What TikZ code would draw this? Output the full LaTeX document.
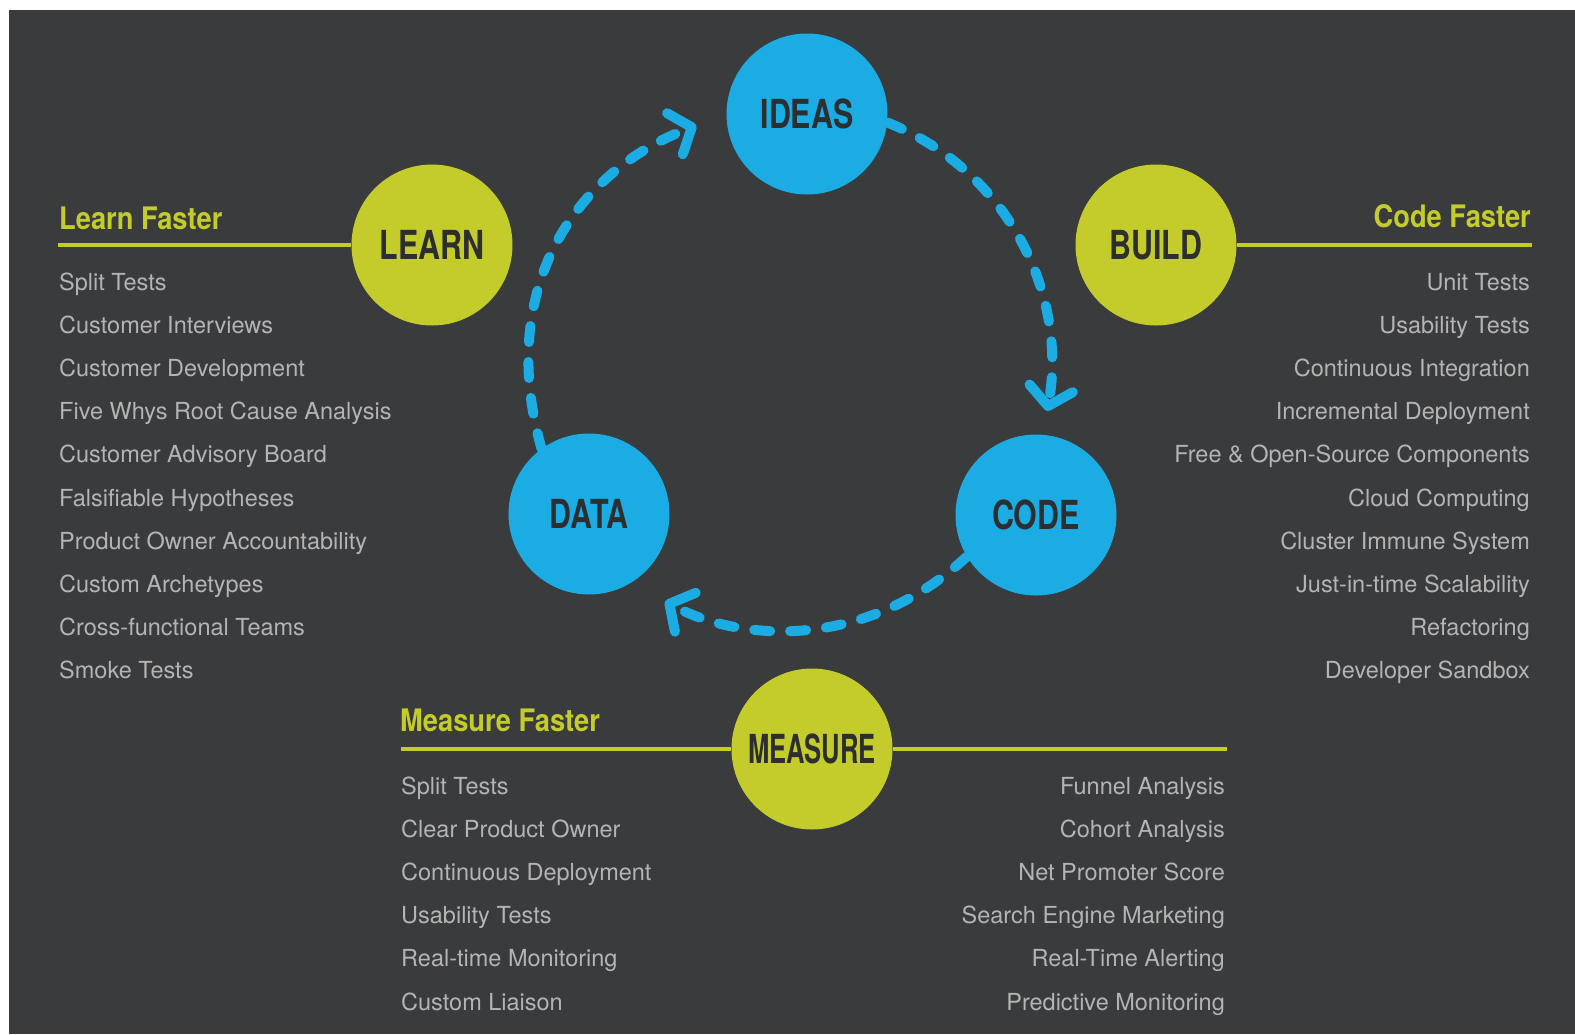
\documentclass[tikz,border=0pt]{standalone}
\usepackage{fontspec}
\setmainfont{TeX Gyre Heros}
\newfontfamily\ballfont[FakeStretch=0.76]{TeX Gyre Heros}
\newfontfamily\narrowball[FakeStretch=0.64]{TeX Gyre Heros}
\newfontfamily\headfont[FakeStretch=0.88]{TeX Gyre Heros}
\usepackage{tikz}
\usetikzlibrary{arrows.meta}

\definecolor{bgdark}{HTML}{3A3B3D}
\definecolor{cycleblue}{HTML}{1AACE3}
\definecolor{leangreen}{HTML}{C3CC2B}
\definecolor{itemgray}{HTML}{B4B4B4}
\definecolor{balltext}{HTML}{2C2E30}

\tikzset{
  ball/.style={circle, minimum size=161pt, inner sep=0pt, text=balltext,
    font=\ballfont\bfseries\fontsize{40}{40}\selectfont},
  blueball/.style={ball, fill=cycleblue},
  greenball/.style={ball, fill=leangreen},
  heading/.style={text=leangreen, inner sep=0pt,
    font=\headfont\bfseries\fontsize{31}{31}\selectfont},
  item/.style={text=itemgray, inner sep=0pt,
    font=\fontsize{23.5}{23.5}\selectfont},
  greenline/.style={draw=leangreen, line width=4pt},
  flow/.style={draw=cycleblue, line width=10pt, line cap=round,
    dash pattern=on 16pt off 20pt,
    -{Straight Barb[length=18pt,width=44pt,round]}}
}

\begin{document}
\begin{tikzpicture}[x=1pt,y=1pt]
\useasboundingbox (0,0) rectangle (1575,-1034);
\fill[white] (0,0) rectangle (1575,-1034);
\fill[bgdark] (9,-10) rectangle (1575,-1034);

% the cycle
\node[blueball] (ideas) at (807,-114) {IDEAS};
\node[blueball] (code) at (1036,-515) {CODE};
\node[blueball] (data) at (589,-514) {DATA};
\draw[flow, shorten >=32pt, looseness=1.1] (data.126) to[out=106, in=201] (ideas.180);
\draw[flow, shorten >=24pt] (ideas.354) to[out=-22, in=80] (code.85);
\draw[flow, shorten >=39pt] (code.211) to[out=223, in=332] (data.301);

% the three steps
\coordinate (lf) at (58,-245);
\coordinate (cf) at (1532,-245);
\coordinate (mfl) at (401,-749);
\coordinate (mfr) at (1227,-749);
\node[greenball] (learn) at (432,-245) {LEARN};
\node[greenball] (build) at (1156,-245) {BUILD};
\node[greenball, font=\narrowball\bfseries\fontsize{40}{40}\selectfont] (measure) at (812,-749) {MEASURE};
\draw[greenline] (lf) -- (learn);
\draw[greenline] (build) -- (cf);
\draw[greenline] (mfl) -- (measure);
\draw[greenline] (measure) -- (mfr);

\node[heading, anchor=base west] (learnhead) at (59,-229) {Learn Faster};
\node[heading, anchor=base east] (codehead) at (1531,-227) {Code Faster};
\node[heading, anchor=base west] (measurehead) at (400,-731) {Measure Faster};

% lists
\foreach \txt [count=\i from 0] in {Split Tests, Customer Interviews,
  Customer Development, Five Whys Root Cause Analysis, Customer Advisory Board,
  Falsifiable Hypotheses, Product Owner Accountability, Custom Archetypes,
  Cross-functional Teams, Smoke Tests}
  \node[item, anchor=base west] (learn\i) at (59,-290-43.2*\i) {\txt};
\foreach \txt [count=\i from 0] in {Unit Tests, Usability Tests,
  Continuous Integration, Incremental Deployment,
  Free \& Open-Source Components, Cloud Computing, Cluster Immune System,
  Just-in-time Scalability, Refactoring, Developer Sandbox}
  \node[item, anchor=base east] (code\i) at (1530,-290-43.2*\i) {\txt};
\foreach \txt [count=\i from 0] in {Split Tests, Clear Product Owner,
  Continuous Deployment, Usability Tests, Real-time Monitoring, Custom Liaison}
  \node[item, anchor=base west] (mleft\i) at (401,-794-43.2*\i) {\txt};
\foreach \txt [count=\i from 0] in {Funnel Analysis, Cohort Analysis,
  Net Promoter Score, Search Engine Marketing, Real-Time Alerting,
  Predictive Monitoring}
  \node[item, anchor=base east] (mright\i) at (1225,-794-43.2*\i) {\txt};
\end{tikzpicture}
\end{document}
